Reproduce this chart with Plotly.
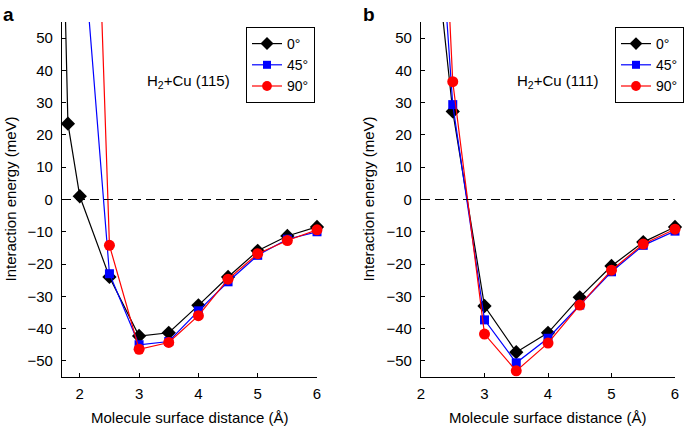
import plotly.graph_objects as go

# ---------------- data ----------------
angles = ["0°", "45°", "90°"]

# Panel a: H2 + Cu(115)
x_a_0 = [1.7, 1.8, 2.0, 2.5, 3.0, 3.5, 4.0, 4.5, 5.0, 5.5, 6.0]
e_a_0 = [102, 23.5, 1.0, -24.0, -42.3, -41.3, -32.8, -24.0, -15.9, -11.3, -8.5]
x_a = [2.0, 2.5, 3.0, 3.5, 4.0, 4.5, 5.0, 5.5, 6.0]
e_a_45 = [92, -23.0, -45.0, -44.0, -34.5, -25.5, -17.3, -12.3, -10.0]
e_a_90 = [260, -14.2, -46.4, -44.3, -36.0, -24.7, -16.8, -12.7, -9.4]

# Panel b: H2 + Cu(111)
x_b = [2.0, 2.5, 3.0, 3.5, 4.0, 4.5, 5.0, 5.5, 6.0]
e_b_0 = [120, 27.3, -33.0, -47.3, -41.3, -30.3, -20.6, -13.2, -8.5]
e_b_45 = [171, 29.4, -37.3, -50.6, -43.0, -32.7, -22.4, -14.2, -9.8]
e_b_90 = [242, 36.5, -41.7, -53.1, -44.5, -32.7, -21.9, -13.8, -9.2]

y_ticks = [-50, -40, -30, -20, -10, 0, 10, 20, 30, 40, 50]
x_ticks = [2, 3, 4, 5, 6]
Y_RANGE = [-55, 55]
X_RANGE_A = [1.7, 6]
X_RANGE_B = [2, 6]

X_TITLE = "Molecule surface distance (Å)"
Y_TITLE = "Interaction energy (meV)"

# ---------------- styling ----------------
FONT = "Liberation Sans, Arial, sans-serif"
FS = 15
styles = [
    dict(color="black", symbol="diamond", size=11),
    dict(color="#0000ff", symbol="square", size=9),
    dict(color="#ff0000", symbol="circle", size=11),
]


def sizes(vals, s):
    return [0 if v > Y_RANGE[1] else s for v in vals]


fig = go.Figure()

panel_a = [(x_a_0, e_a_0), (x_a, e_a_45), (x_a, e_a_90)]
panel_b = [(x_b, e_b_0), (x_b, e_b_45), (x_b, e_b_90)]

for panel, xa, ya, lg in [(panel_a, "x", "y", "legend"), (panel_b, "x2", "y2", "legend2")]:
    for i, (xs, ys) in enumerate(panel):
        st = styles[i]
        fig.add_trace(go.Scatter(
            x=xs, y=ys, mode="lines+markers", name=angles[i],
            line=dict(color=st["color"], width=1.2),
            marker=dict(color=st["color"], symbol=st["symbol"],
                        size=sizes(ys, st["size"]), opacity=1,
                        line=dict(width=0)),
            cliponaxis=False, xaxis=xa, yaxis=ya, legend=lg,
        ))

W, H = 685, 427
dom_y = [1 - 377 / H, 1 - 22 / H]
dom_xa = [62 / W, 317 / W]
dom_xb = [421 / W, 675 / W]

axis_common = dict(
    showline=True, linecolor="black", linewidth=1.2, ticks="inside", ticklen=4,
    tickcolor="black", showgrid=False, zeroline=False, mirror=False,
    automargin=False,
    tickfont=dict(family=FONT, size=FS, color="black"),
)

legend_common = dict(
    yanchor="top", xanchor="right", bordercolor="black", borderwidth=1,
    bgcolor="white", font=dict(family=FONT, size=14), itemwidth=30,
    tracegroupgap=0,
)

fig.update_layout(
    template="none",
    width=W, height=H,
    margin=dict(l=0, r=0, t=0, b=0, autoexpand=False),
    paper_bgcolor="white", plot_bgcolor="white",
    font=dict(family=FONT, size=FS, color="black"),
    xaxis=dict(domain=dom_xa, range=X_RANGE_A, tickvals=x_ticks, anchor="y",
               ticklabelstandoff=3, **axis_common),
    yaxis=dict(domain=dom_y, range=Y_RANGE, tickvals=y_ticks, anchor="x",
               ticklabelstandoff=5, **axis_common),
    xaxis2=dict(domain=dom_xb, range=X_RANGE_B, tickvals=x_ticks, anchor="y2",
                ticklabelstandoff=3, **axis_common),
    yaxis2=dict(domain=dom_y, range=Y_RANGE, tickvals=y_ticks, anchor="x2",
                ticklabelstandoff=5, **axis_common),
    legend=dict(x=315 / W, y=1 - 27 / H, **legend_common),
    legend2=dict(x=684 / W, y=1 - 27 / H, **legend_common),
    showlegend=True,
)

# dashed zero lines
for xr, yr, rng in [("x", "y", X_RANGE_A), ("x2", "y2", X_RANGE_B)]:
    fig.add_shape(type="line", xref=xr, yref=yr, x0=rng[0], x1=rng[1], y0=0, y1=0,
                  line=dict(color="black", width=1.2, dash="9px,5px"))

# axis titles
for dx, ycx in [(dom_xa, 10), (dom_xb, 368)]:
    fig.add_annotation(text=X_TITLE, xref="paper", yref="paper",
                       x=(dx[0] + dx[1]) / 2, y=1 - 417 / H, xanchor="center",
                       yanchor="middle", showarrow=False,
                       font=dict(family=FONT, size=FS))
    fig.add_annotation(text=Y_TITLE, xref="paper", yref="paper",
                       x=ycx / W, y=(dom_y[0] + dom_y[1]) / 2, xanchor="center",
                       yanchor="middle", textangle=-90, showarrow=False,
                       font=dict(family=FONT, size=FS))

# in-plot labels
fig.add_annotation(text="H<sub>2</sub>+Cu (115)", xref="paper", yref="paper",
                   x=188 / W, y=1 - 81 / H, xanchor="center", yanchor="middle",
                   showarrow=False, font=dict(family=FONT, size=FS))
fig.add_annotation(text="H<sub>2</sub>+Cu (111)", xref="paper", yref="paper",
                   x=558 / W, y=1 - 81 / H, xanchor="center", yanchor="middle",
                   showarrow=False, font=dict(family=FONT, size=FS))
fig.add_annotation(text="<b>a</b>", xref="paper", yref="paper", x=1 / W, y=1 - 2 / H,
                   xanchor="left", yanchor="top", showarrow=False,
                   font=dict(family=FONT, size=19))
fig.add_annotation(text="<b>b</b>", xref="paper", yref="paper", x=361 / W, y=1 - 2 / H,
                   xanchor="left", yanchor="top", showarrow=False,
                   font=dict(family=FONT, size=19))

fig.write_html("out.html", config={"displayModeBar": False},
               post_script="document.body.style.margin='0px';")
